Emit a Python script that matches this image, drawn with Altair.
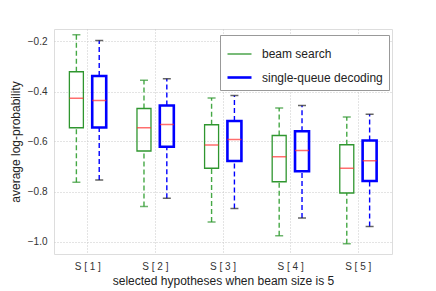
import altair as alt
import pandas as pd

categories = ["S [ 1 ]", "S [ 2 ]", "S [ 3 ]", "S [ 4 ]", "S [ 5 ]"]
series = ["beam search", "single-queue decoding"]

beam_low = [-0.763, -0.860, -0.922, -0.977, -1.009]
beam_q1 = [-0.545, -0.638, -0.707, -0.761, -0.806]
beam_med = [-0.427, -0.545, -0.614, -0.661, -0.707]
beam_q3 = [-0.321, -0.468, -0.533, -0.576, -0.613]
beam_high = [-0.173, -0.355, -0.426, -0.466, -0.502]

sq_low = [-0.754, -0.827, -0.868, -0.906, -0.940]
sq_q1 = [-0.544, -0.621, -0.678, -0.719, -0.758]
sq_med = [-0.436, -0.532, -0.592, -0.636, -0.677]
sq_q3 = [-0.338, -0.456, -0.518, -0.559, -0.596]
sq_high = [-0.196, -0.349, -0.416, -0.456, -0.491]

rows = []
for i, c in enumerate(categories):
    rows.append(dict(cat=c, s=series[0], low=beam_low[i], q1=beam_q1[i], med=beam_med[i], q3=beam_q3[i], high=beam_high[i]))
    rows.append(dict(cat=c, s=series[1], low=sq_low[i], q1=sq_q1[i], med=sq_med[i], q3=sq_q3[i], high=sq_high[i]))
df = pd.DataFrame(rows)
df["grp"] = df["s"]

FONT = "Liberation Sans"
green = "#2f962f"
green_w = "#45a845"
blue = "#0000ff"
grid_col = "#c8c8c8"

x = alt.X("cat:N", sort=categories, title="selected hypotheses when beam size is 5",
          scale=alt.Scale(paddingInner=0, paddingOuter=0),
          axis=alt.Axis(labelAngle=0, ticks=False, domain=False, grid=True,
                        gridDash=[1, 2], gridColor=grid_col, gridWidth=1,
                        labelFontSize=10, labelPadding=7, titleFontSize=12, titleFontWeight="normal",
                        titlePadding=4, labelColor="#333333", titleColor="#222222"))
xo = alt.XOffset("s:N", sort=series, scale=alt.Scale(paddingInner=0, paddingOuter=0.48))
ysc = alt.Scale(domain=[-1.05, -0.15], nice=False, zero=False)
yax = alt.Axis(values=[-1.0, -0.8, -0.6, -0.4, -0.2], format=".1f", ticks=False, domain=False,
               grid=True, gridDash=[1, 2], gridColor=grid_col, gridWidth=1,
               labelFontSize=10, labelPadding=7, titleFontSize=12, titleFontWeight="normal",
               titlePadding=5, labelColor="#333333", titleColor="#222222")

base = alt.Chart(df).encode(x=x, xOffset=xo)

legend = alt.Legend(
    title=None, orient="none", legendX=166, legendY=6, symbolType="stroke",
    symbolSize=576, labelFontSize=12, labelFont=FONT, strokeColor="#999999",
    padding=6, fillColor="white", rowPadding=4, labelOffset=9, labelColor="#222222")

whisk_color = alt.Color("grp:N", scale=alt.Scale(domain=series, range=[green_w, blue]), legend=None)
whisk_lo = base.mark_rule(strokeDash=[5, 3], strokeWidth=1.4).encode(
    y=alt.Y("low:Q", scale=ysc, axis=yax, title="average log-probability"), y2="q1:Q",
    color=whisk_color)
whisk_hi = base.mark_rule(strokeDash=[5, 3], strokeWidth=1.4).encode(
    y=alt.Y("q3:Q", scale=ysc), y2="high:Q", color=whisk_color)
cap_fill = alt.Fill("grp:N", scale=alt.Scale(domain=series, range=[green, "#222222"]), legend=None)
cap_lo = base.mark_tick(size=8, thickness=1.5).encode(y=alt.Y("low:Q", scale=ysc), fill=cap_fill)
cap_hi = base.mark_tick(size=8, thickness=1.5).encode(y=alt.Y("high:Q", scale=ysc), fill=cap_fill)

box = base.mark_bar(width=14, filled=False).encode(
    y=alt.Y("q1:Q", scale=ysc), y2="q3:Q",
    stroke=alt.Stroke("s:N", scale=alt.Scale(domain=series, range=[green, blue]), legend=legend),
    strokeWidth=alt.StrokeWidth("s:N", scale=alt.Scale(domain=series, range=[1.3, 2.6]), legend=legend))
med = base.mark_tick(size=14, thickness=1.5, color="#ff3030").encode(y=alt.Y("med:Q", scale=ysc))

chart = alt.layer(whisk_lo, whisk_hi, cap_lo, cap_hi, box, med).properties(
    width=338, height=225,
    autosize=alt.AutoSizeParams(type="none"),
    padding={"left": 46, "top": 21, "right": 20, "bottom": 36},
).resolve_scale(
    stroke="independent", strokeWidth="independent", color="independent", fill="independent"
).configure_view(
    stroke="#d8d8d8", strokeWidth=2
).configure(font=FONT)

chart.save("out.html", embed_options={"renderer": "svg", "actions": False})
